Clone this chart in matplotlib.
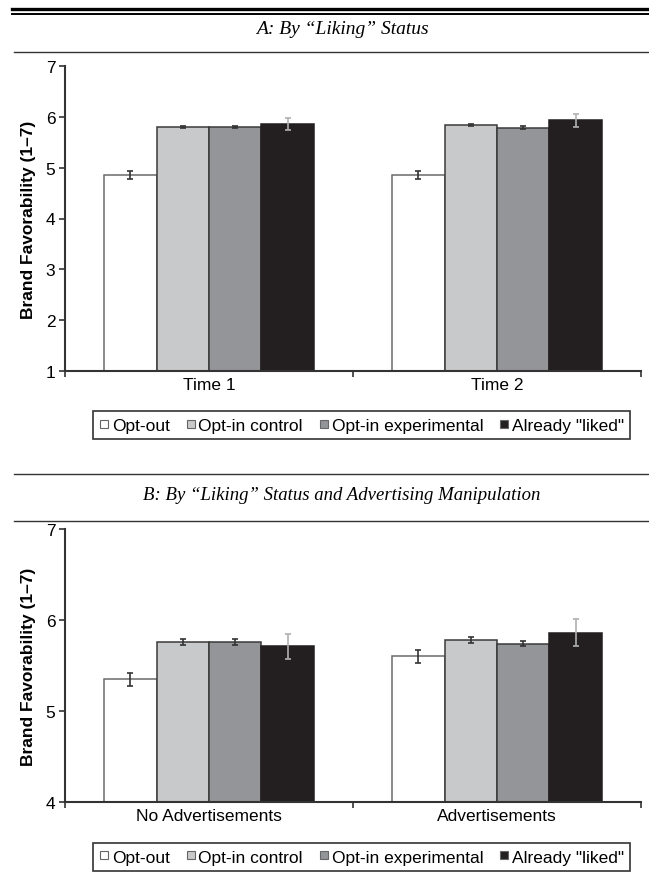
import numpy as np
import matplotlib
matplotlib.use('Agg')
import matplotlib.pyplot as plt
from matplotlib.lines import Line2D

plt.rcParams['font.family'] = ['Liberation Sans', 'DejaVu Sans']

groups = ['Opt-out', 'Opt-in control', 'Opt-in experimental', 'Already "liked"']
colors = ['#ffffff', '#c8c9cb', '#939598', '#231f20']
edge_colors = ['#6a6a6a', '#3a3a3a', '#3a3a3a', '#231f20']
err_colors = ['#333333', '#333333', '#333333', '#b0b0b0']

# panel A
cats_a = ['Time 1', 'Time 2']
means_a = [[4.85, 4.86], [5.80, 5.83], [5.80, 5.79], [5.86, 5.93]]
errs_a = [[0.075, 0.08], [0.02, 0.02], [0.02, 0.02], [0.12, 0.13]]

# panel B
cats_b = ['No Advertisements', 'Advertisements']
means_b = [[5.35, 5.60], [5.76, 5.78], [5.76, 5.74], [5.71, 5.86]]
errs_b = [[0.07, 0.07], [0.035, 0.035], [0.03, 0.03], [0.14, 0.15]]

W, H = 649, 887
fig = plt.figure(figsize=(W / 100, H / 100), dpi=100)


def fy(py):
    return 1 - py / H


def draw_panel(rect, cats, means, errs, ymin, ymax, legend_y):
    ax = fig.add_axes(rect)
    x = np.arange(len(cats))
    bw = 0.182
    for i in range(4):
        pos = x - 1.5 * bw + i * bw
        ax.bar(pos, np.array(means[i]) - ymin, bw, bottom=ymin, color=colors[i],
               edgecolor=edge_colors[i], linewidth=1.1, zorder=2)
        ax.errorbar(pos, means[i], yerr=errs[i], fmt='none', ecolor=err_colors[i],
                    elinewidth=1.2, capsize=2.5, capthick=1.2, zorder=3)
    ax.set_xlim(-0.5, len(cats) - 0.5)
    ax.set_ylim(ymin, ymax)
    ax.set_yticks(range(ymin, ymax + 1))
    ax.set_xticks(x)
    ax.set_xticklabels(cats, fontsize=12.5)
    ax.set_xticks([-0.5, 0.5, 1.5], minor=True)
    ax.tick_params(axis='x', which='major', length=0, pad=4)
    ax.tick_params(axis='x', which='minor', length=4, width=1.2, color='#333333')
    ax.tick_params(axis='y', length=4, width=1.2, color='#333333', labelsize=12.5, pad=3)
    for s in ['top', 'right']:
        ax.spines[s].set_visible(False)
    for s in ['left', 'bottom']:
        ax.spines[s].set_color('#333333')
        ax.spines[s].set_linewidth(1.5)
    ax.set_ylabel('Brand Favorability (1\u20137)', fontsize=12.5, fontweight='bold', labelpad=7)
    handles = [Line2D([], [], marker='s', linestyle='none', markersize=5.5,
                      markerfacecolor=c, markeredgecolor='#666666', markeredgewidth=0.8)
               for c in colors]
    leg = fig.legend(handles, groups, loc='center', bbox_to_anchor=(0.557, legend_y),
                     ncol=4, fontsize=12.5, frameon=True, fancybox=False,
                     handlelength=0.6, handletextpad=0.15, columnspacing=0.9,
                     borderpad=0.35, edgecolor='black')
    leg.get_frame().set_linewidth(1.2)
    return ax


left, right = 65 / W, 641 / W
draw_panel([left, fy(372), right - left, fy(67) - fy(372)], cats_a, means_a, errs_a, 1, 7, fy(426))
draw_panel([left, fy(803), right - left, fy(530) - fy(803)], cats_b, means_b, errs_b, 4, 7, fy(858))

# rules and panel headings
fig.add_artist(Line2D([12 / W, 1], [fy(9.5), fy(9.5)], color='black', linewidth=2.4))
fig.add_artist(Line2D([12 / W, 1], [fy(15), fy(15)], color='black', linewidth=1.4))
fig.add_artist(Line2D([14 / W, 1], [fy(53), fy(53)], color='#333333', linewidth=1.0))
fig.add_artist(Line2D([14 / W, 1], [fy(475), fy(475)], color='#333333', linewidth=1.0))
fig.add_artist(Line2D([14 / W, 1], [fy(522), fy(522)], color='#333333', linewidth=1.0))

fig.text(342 / W, fy(30), 'A: By \u201cLiking\u201d Status', ha='center', va='center',
         fontsize=14, style='italic', family='Liberation Serif')
fig.text(342 / W, fy(496), 'B: By \u201cLiking\u201d Status and Advertising Manipulation',
         ha='center', va='center', fontsize=13.5, style='italic', family='Liberation Serif')

fig.savefig('out.png', dpi=100)
